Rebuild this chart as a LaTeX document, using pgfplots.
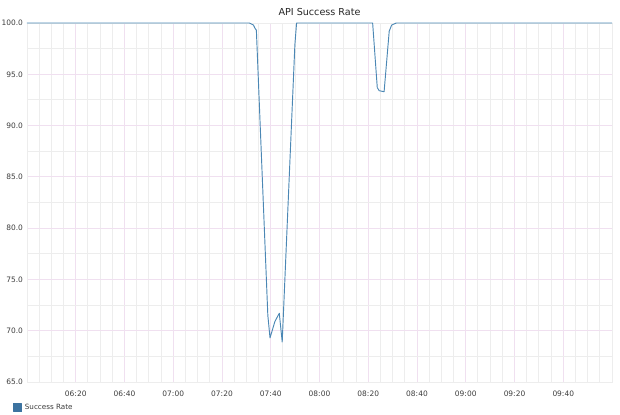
\documentclass[border=0pt]{standalone}
\usepackage{fontspec}
\setmainfont{DejaVu Sans}
\usepackage{pgfplots}
\pgfplotsset{compat=1.18}
\definecolor{linec}{RGB}{75,135,180}
\definecolor{legc}{RGB}{60,115,160}
\definecolor{majg}{RGB}{240,224,240}
\definecolor{ming}{RGB}{237,237,237}
\definecolor{tickc}{RGB}{60,60,60}
\begin{document}
\begin{tikzpicture}
\begin{axis}[
  scale only axis,
  width=438.75pt, height=269.25pt,
  xmin=0, xmax=240, ymin=65, ymax=100,
  clip=false,
  axis line style={ming},
  xtick={20,40,60,80,100,120,140,160,180,200,220},
  xticklabels={06:20,06:40,07:00,07:20,07:40,08:00,08:20,08:40,09:00,09:20,09:40},
  minor xtick={5,10,15,25,30,35,45,50,55,65,70,75,85,90,95,105,110,115,125,130,135,145,150,155,165,170,175,185,190,195,205,210,215,225,230,235},
  ytick={65,70,75,80,85,90,95,100},
  minor ytick={67.5,72.5,77.5,82.5,87.5,92.5,97.5},
  y tick label style={/pgf/number format/fixed,/pgf/number format/fixed zerofill,/pgf/number format/precision=1, xshift=0.5pt},
  /pgf/number format/assume math mode=true,
  major tick length=0pt, minor tick length=0pt,
  grid=both,
  major grid style={majg, line width=0.7pt},
  minor grid style={ming, line width=0.7pt},
  tick label style={font=\fontsize{5.6}{6}\selectfont, text=tickc},
  x tick label style={yshift=-3.5pt},
  title={API Success Rate},
  title style={font=\fontsize{7.2}{8}\selectfont, text=black!85, yshift=-4pt},
  legend style={at={(0,0)}, anchor=north west, xshift=-10.5pt, yshift=-14.5pt, draw=none, fill=none, inner sep=0pt, font=\fontsize{5.4}{6}\selectfont, text=tickc},
  legend cell align=left,
  legend image code/.code={\fill[legc] (0pt,-3pt) rectangle (6pt,3pt);},
]
\addplot[linec, line width=0.7pt, line join=round] coordinates {
(0,100) (91.2,100) (92.9,99.8) (93.5,99.5) (94.1,99.3) (98.8,71.5) (99.7,69.3) (101.7,70.9) (103.5,71.7) (104.7,68.9) (109.9,97.9) (110.6,100) (141.8,100) (143.7,93.7) (144.5,93.4) (146.5,93.3) (148.6,99.2) (149.6,99.8) (151.5,100) (240,100)
};
\addlegendentry{Success Rate}
\end{axis}
\pgfresetboundingbox
\path ([shift={(-20.25pt,-24pt)}]current axis.south west) rectangle ([shift={(6pt,17.25pt)}]current axis.north east);
\end{tikzpicture}
\end{document}
